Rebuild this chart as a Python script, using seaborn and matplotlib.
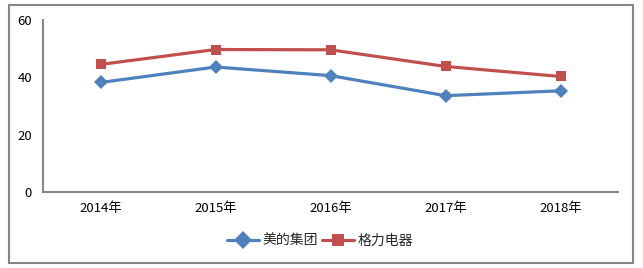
import matplotlib
matplotlib.use("Agg")
import matplotlib.pyplot as plt
import seaborn as sns
import pandas as pd
from matplotlib.patches import Rectangle

years = ["2014年", "2015年", "2016年", "2017年", "2018年"]
midea = [38.2, 43.6, 40.6, 33.6, 35.3]
gree = [44.5, 49.7, 49.6, 43.8, 40.3]
series_names = ["美的集团", "格力电器"]
yticks = [0, 20, 40, 60]

sns.set_theme(style="white")
plt.rcParams['font.family'] = ['Noto Sans CJK SC', 'DejaVu Sans']

df = pd.DataFrame({
    "year": years * 2,
    "value": midea + gree,
    "series": [series_names[0]] * len(years) + [series_names[1]] * len(years),
})

fig = plt.figure(figsize=(6.43, 2.68), dpi=100)
ax = fig.add_axes([43/643, 1 - 192/268, 575/643, 172/268])

palette = {series_names[0]: "#4F81BD", series_names[1]: "#C0504D"}
sns.lineplot(data=df, x="year", y="value", hue="series", style="series",
             markers={series_names[0]: "D", series_names[1]: "s"},
             dashes=False, palette=palette, linewidth=2.3, markersize=7.5,
             markeredgewidth=0, ax=ax, sort=False)

ax.set_xlim(-0.5, 4.5)
ax.set_ylim(0, 60)
ax.set_yticks(yticks)
ax.set_xlabel("")
ax.set_ylabel("")
for s in ["top", "right"]:
    ax.spines[s].set_visible(False)
for s in ["left", "bottom"]:
    ax.spines[s].set_color("#868686")
    ax.spines[s].set_linewidth(1.5)
ax.tick_params(axis="both", length=0, labelsize=9.5, colors="black")
ax.tick_params(axis="x", pad=7)
ax.tick_params(axis="y", pad=8)

handles, labels = ax.get_legend_handles_labels()
for h in handles:
    h.set_markersize(9)
ax.legend(handles, labels, loc="center", bbox_to_anchor=(320/643, 1 - 241/268),
          bbox_transform=fig.transFigure, ncol=2, frameon=False, fontsize=10,
          handlelength=2.3, columnspacing=0.3, handletextpad=0.25, borderaxespad=0)

fig.patches.append(Rectangle((9/643, 5/268), 624/643, 258/268, transform=fig.transFigure,
                             fill=False, edgecolor="#868686", linewidth=1.5))

fig.savefig("out.png", dpi=100)
